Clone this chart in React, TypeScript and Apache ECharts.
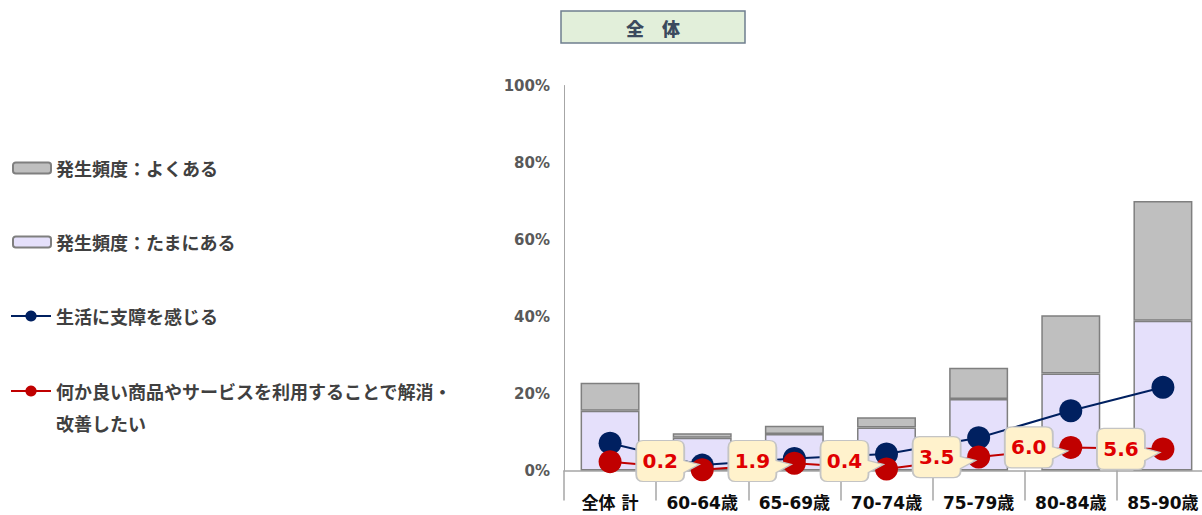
import React, { useEffect, useRef } from "react";
import * as echarts from "echarts";

const categories = ["全体 計", "60-64歳", "65-69歳", "70-74歳", "75-79歳", "80-84歳", "85-90歳"];
const oftenVals = [7.3, 1.2, 2.1, 2.6, 8.1, 15.1, 31.1];
const sometimesVals = [15.5, 8.5, 9.5, 11.2, 18.6, 25.2, 38.9];
const hinderVals = [7.1, 1.4, 3.1, 4.3, 8.5, 15.5, 21.6];
const wishVals = [2.3, 0.2, 1.9, 0.4, 3.5, 6.0, 5.6];
const yTicks = [0, 20, 40, 60, 80, 100];

const nameOften = "発生頻度：よくある";
const nameSometimes = "発生頻度：たまにある";
const nameHinder = "生活に支障を感じる";
const nameWish = "何か良い商品やサービスを利用することで解消・改善したい";
const titleText = "全　体";

const CJK = "'Noto Sans CJK JP', 'Noto Sans', sans-serif";
const LATIN = "'DejaVu Sans', 'Noto Sans CJK JP', sans-serif";

const calloutPath =
  "path://M7 0 H41 Q48 0 48 7 V20 L63 24 L48 32 V34 Q48 41 41 41 H7 Q0 41 0 34 V7 Q0 0 7 0 Z";

const GRID_TOP = 85.5;
const GRID_H = 385;
const Y_MAX = 100;
// callout boxes stay above the axis: their centre never goes lower than this px from grid top
const CALLOUT_LOWEST = 375.5;

export default function App() {
  const ref = useRef<HTMLDivElement>(null);
  useEffect(() => {
    if (!ref.current) return;
    const chart = echarts.init(ref.current, undefined, { renderer: "svg" });
    const legendText = { fontSize: 18, fontWeight: "bold", color: "#404040", fontFamily: CJK, lineHeight: 20 };
    const pxPerUnit = GRID_H / Y_MAX;
    chart.setOption({
      animation: false,
      backgroundColor: "#ffffff",
      graphic: [
        {
          type: "rect",
          shape: { x: 561, y: 11, width: 184, height: 32 },
          style: { fill: "#E2EFDA", stroke: "#6F7F8F", lineWidth: 1.5 },
        },
        {
          type: "text",
          x: 653,
          y: 28,
          style: {
            text: titleText,
            fill: "#3B4A5E",
            font: `900 18px ${CJK}`,
            textAlign: "center",
            textVerticalAlign: "middle",
          },
        },
      ],
      legend: [
        {
          data: [nameOften, nameSometimes],
          orient: "vertical",
          left: 12,
          top: 158,
          padding: 0,
          itemWidth: 38,
          itemHeight: 11,
          itemGap: 54,
          textStyle: legendText,
        },
        {
          data: [nameHinder],
          orient: "vertical",
          left: 10,
          top: 306,
          padding: 0,
          itemWidth: 40,
          itemHeight: 14,
          textStyle: legendText,
        },
        {
          data: [nameWish],
          orient: "vertical",
          left: 10,
          top: 343,
          padding: 0,
          itemWidth: 40,
          itemHeight: 14,
          formatter: (n: string) => "\n" + n.replace("解消・", "解消・\n"),
          textStyle: { ...legendText, lineHeight: 32 },
        },
      ],
      grid: { left: 564, top: GRID_TOP, width: 645, height: GRID_H },
      xAxis: {
        type: "category",
        data: categories,
        offset: 17,
        axisLine: { show: true, lineStyle: { color: "#A6A6A6", width: 1.5 } },
        axisTick: { show: true, length: 30, lineStyle: { color: "#A6A6A6", width: 1.5 } },
        axisLabel: {
          interval: 0,
          margin: 7,
          fontSize: 17,
          fontWeight: "bold",
          color: "#0D0D0D",
          fontFamily: LATIN,
        },
      },
      yAxis: {
        type: "value",
        min: yTicks[0],
        max: yTicks[yTicks.length - 1],
        interval: 20,
        splitLine: { show: false },
        axisTick: { show: false },
        axisLine: { show: true, lineStyle: { color: "#A6A6A6", width: 1 } },
        axisLabel: {
          formatter: "{value}%",
          margin: 14,
          fontSize: 15,
          fontWeight: "bold",
          color: "#595959",
          fontFamily: LATIN,
        },
      },
      series: [
        {
          name: nameSometimes,
          type: "bar",
          stack: "freq",
          barWidth: "64%",
          data: sometimesVals,
          itemStyle: { color: "#E5E0FB", borderColor: "#7F7F7F", borderWidth: 1.5 },
        },
        {
          name: nameOften,
          type: "bar",
          stack: "freq",
          barWidth: "64%",
          data: oftenVals,
          itemStyle: { color: "#BFBFBF", borderColor: "#7F7F7F", borderWidth: 1.5 },
        },
        {
          name: nameHinder,
          type: "line",
          data: hinderVals,
          symbol: "circle",
          symbolSize: 23,
          lineStyle: { color: "#002060", width: 2 },
          itemStyle: { color: "#002060" },
        },
        {
          name: nameWish,
          type: "line",
          data: wishVals,
          symbol: "circle",
          symbolSize: 23,
          lineStyle: { color: "#C00000", width: 2 },
          itemStyle: { color: "#C00000" },
          markPoint: {
            symbol: calloutPath,
            symbolSize: [63, 41],
            itemStyle: { color: "#FFF2CC", borderColor: "#C4C4C4", borderWidth: 1.5 },
            label: {
              show: true,
              position: "inside",
              offset: [-7.5, 0],
              fontSize: 20,
              fontWeight: "bold",
              color: "#E00000",
              fontFamily: LATIN,
              formatter: (p: any) => Number(p.value).toFixed(1),
            },
            data: wishVals
              .map((v, i) => {
                const yPx = GRID_H - v * pxPerUnit;
                const lift = Math.max(0, yPx - CALLOUT_LOWEST);
                return { coord: [i, v], value: v, symbolOffset: [-34.5, -lift] };
              })
              .filter((_, i) => i > 0),
          },
        },
      ],
    });
    return () => chart.dispose();
  }, []);
  return (
    <div
      ref={ref}
      style={{ position: "fixed", left: 0, top: 0, width: 1216, height: 515 }}
    />
  );
}
